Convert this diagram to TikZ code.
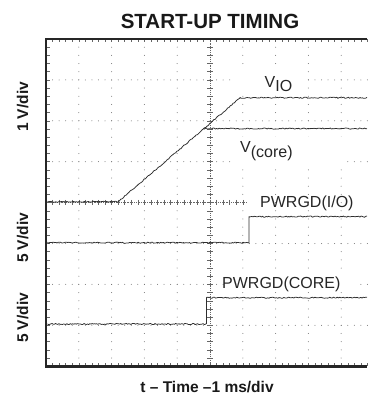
\documentclass[tikz,border=0pt]{standalone}
\usepackage{fontspec}
\setmainfont{Liberation Sans}
\begin{document}
\begin{tikzpicture}[x=1pt,y=-1pt,
  trace/.style={draw=black!82, line width=0.75pt, line join=round},
  gdot/.style={fill=black!55},
  frame/.style={draw=black!85, line width=2.6pt},
  tick/.style={draw=black!60, line width=0.5pt},
  lbl/.style={font=\fontsize{16}{18}\selectfont, text=black!85, inner sep=0pt},
  axlbl/.style={font=\bfseries\fontsize{15.5}{17}\selectfont, text=black!90, inner sep=0pt, rotate=90, anchor=base},
  blank/.style={fill=white, draw=none},
]
\useasboundingbox (0,0) rectangle (367,395);
\fill[white] (0,0) rectangle (367,395);
% dotted grid: vertical lines
\foreach \i in {1,2,3,4,6,7,8,9}{
  \foreach \j in {1,...,39}{
    \fill[gdot] ({46+32.8*\i},{39+8.18*\j}) circle[radius=0.5pt];
  }
}
% dotted grid: horizontal lines
\foreach \k in {1,2,3,5,6,7}{
  \foreach \j in {1,...,49}{
    \fill[gdot] ({46+6.56*\j},{39+40.9*\k}) circle[radius=0.5pt];
  }
}
% white areas behind labels
\fill[blank] (233,71) rectangle (307,94);
\fill[blank] (233,137) rectangle (343,165);
\fill[blank] (224,270) rectangle (357,292);
% centre axes
\draw[tick, dash pattern=on 1.2pt off 1pt] (46,202.6) -- (247,202.6);
\foreach \j in {1,...,30}{
  \draw[tick] ({46+6.56*\j},199.8) -- ({46+6.56*\j},205.4);
}
\draw[tick, dash pattern=on 1.2pt off 1pt] (210,39) -- (210,366);
\foreach \j in {1,...,39}{
  \draw[tick] (207.2,{39+8.18*\j}) -- (212.8,{39+8.18*\j});
}
% edge ticks
\foreach \j in {1,...,39}{
  \draw[tick] (46,{39+8.18*\j}) -- (50,{39+8.18*\j});
}
\foreach \j in {1,...,49}{
  \draw[tick] ({46+6.56*\j},39) -- ({46+6.56*\j},42.5);
  \draw[tick] ({46+6.56*\j},366) -- ({46+6.56*\j},362.5);
}
% frame
\draw[frame] (367,39) -- (46,39) -- (46,366.2) -- (367,366.2);
% traces
\pgfmathsetseed{11}
\draw[trace] plot[domain=47.5:118, samples=70] (\x,{201.8+0.55*rand})
  -- plot[domain=118:240, samples=90] (\x,{201.8-(\x-118)*0.852+0.6*rand})
  -- plot[domain=240:367, samples=110] (\x,{97.8+0.6*rand});
\draw[trace] (203.6,128.6) -- plot[domain=204:367, samples=130] (\x,{128.6+0.6*rand});
\draw[trace] plot[domain=47.5:249, samples=170] (\x,{242.7+0.6*rand})
  -- (249,216.6) -- plot[domain=249.5:367, samples=100] (\x,{216.6+0.6*rand});
\draw[trace] plot[domain=47.5:206.5, samples=140] (\x,{324+0.6*rand})
  -- (206.5,297.7) -- plot[domain=207:367, samples=130] (\x,{297.7+0.6*rand});
% labels
\node[font=\bfseries\fontsize{20.5}{23}\selectfont, text=black!90, inner sep=0pt, anchor=base] (title) at (210,28.3) {START-UP TIMING};
\node[axlbl] (ya) at (28,107) {1 V/div};
\node[axlbl] (yb) at (28,238) {5 V/div};
\node[axlbl] (yc) at (28,318) {5 V/div};
\node[font=\bfseries\fontsize{15.5}{17}\selectfont, text=black!90, inner sep=0pt, anchor=base] (xl) at (207,392) {t -- Time --1 ms/div};
\node[lbl, anchor=base west] (vio) at (264.5,88) {V\raisebox{-3.5pt}{IO}};
\node[lbl, anchor=base west] (vcore) at (240,153) {V\raisebox{-4.5pt}{(core)}};
\node[lbl, anchor=base west] (pgio) at (260,207) {PWRGD(I/O)};
\node[lbl, anchor=base west] (pgcore) at (222,288) {PWRGD(CORE)};
\end{tikzpicture}
\end{document}
